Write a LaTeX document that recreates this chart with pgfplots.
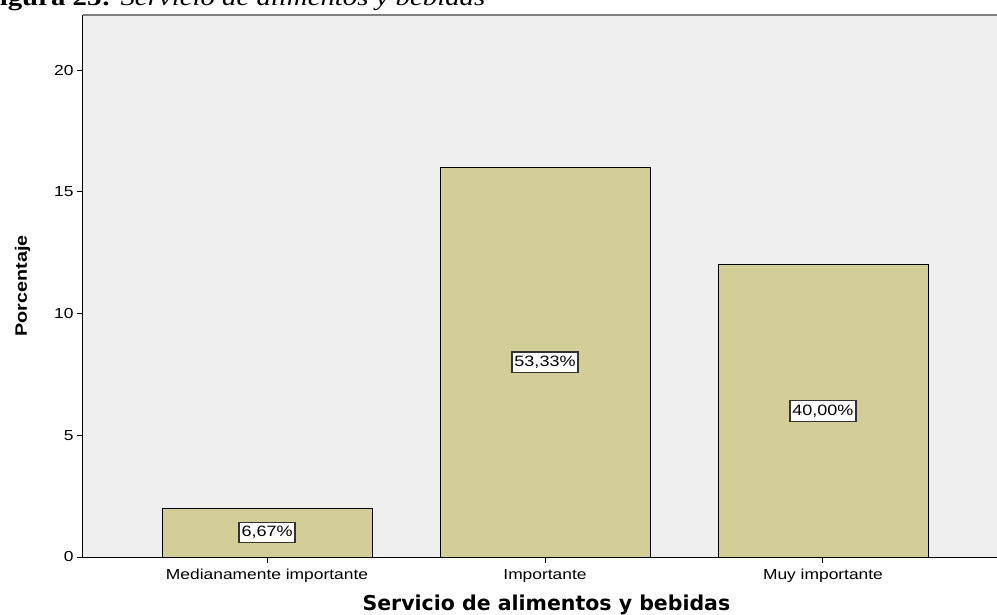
\documentclass[border=0pt]{standalone}
\usepackage{fontspec}
\setmainfont{Liberation Sans}[FakeStretch=1.2]
\newfontfamily\serifx{Liberation Serif}[FakeStretch=1.2]
\newfontfamily\dejab{DejaVu Sans}
\usepackage{pgfplots}
\pgfplotsset{compat=1.18}
\definecolor{bgc}{HTML}{EFEFEF}
\definecolor{barc}{HTML}{D3CE97}
\definecolor{topc}{HTML}{7F7F7F}
\begin{document}
\begin{tikzpicture}[x=1pt,y=1pt]
\useasboundingbox (0,0) rectangle (997,-615);
\node[anchor=base west, inner sep=0pt] at (-18,-6) {\serifx\fontsize{24}{28}\selectfont\textbf{Figura 23:} \textit{Servicio de alimentos y bebidas}};
\begin{axis}[
  at={(83pt,-557pt)}, anchor=south west,
  scale only axis, width=914pt, height=542pt,
  xmin=-0.662, xmax=2.626, ymin=0, ymax=22.26,
  axis x line*=bottom, axis y line*=left,
  axis line style={black, line width=1pt},
  axis background/.style={fill=bgc},
  xtick=data, xticklabels={Medianamente importante, Importante, Muy importante},
  ytick={0,5,10,15,20},
  tick align=outside, major tick length=6pt,
  tick style={black, line width=1pt},
  /pgf/number format/assume math mode=true,
  tick label style={font=\fontsize{14.5}{16}\selectfont},
  xticklabel style={yshift=-2.5pt},
  xlabel={Servicio de alimentos y bebidas},
  ylabel={Porcentaje},
  xlabel style={font=\dejab\bfseries\fontsize{20.5}{24}\selectfont, at={(axis description cs:0.507,-0.0886)}, anchor=center},
  ylabel style={font=\bfseries\fontsize{16.5}{19}\selectfont, at={(axis description cs:-0.066,0.5)}, anchor=center},
  clip=false,
  after end axis/.code={\draw[topc, line width=2pt] (rel axis cs:0,1) -- (rel axis cs:1,1);},
]
\addplot[ybar, bar width=0.755, fill=barc, draw=black, line width=0.8pt] coordinates {(0,2) (1,16) (2,12)};
\addplot[draw=none, mark=none, nodes near coords, point meta=explicit symbolic,
  nodes near coords style={anchor=center, fill=white, draw=black!80, line width=1.2pt, inner xsep=2.5pt, inner ysep=4pt, font=\fontsize{15}{17}\selectfont}]
  coordinates {(0,1) [{6,67\%}] (1,8) [{53,33\%}] (2,6) [{40,00\%}]};
\end{axis}
\end{tikzpicture}
\end{document}
